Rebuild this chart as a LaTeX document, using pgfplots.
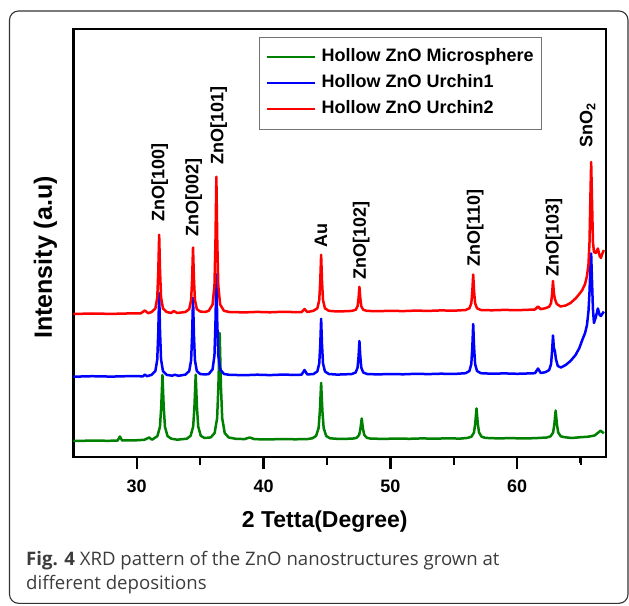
\documentclass[border=0pt]{standalone}
\usepackage{fontspec}
\setmainfont{Liberation Sans}
\newfontfamily\capfont{Open Sans}
\usepackage{pgfplots}
\pgfplotsset{compat=1.18}

\definecolor{xgreen}{RGB}{0,128,0}
\definecolor{xblue}{RGB}{0,0,255}
\definecolor{xred}{RGB}{255,0,0}
\definecolor{capgray}{RGB}{60,60,60}

\newcommand\lbl{\bfseries\fontsize{18}{20}\selectfont}

\begin{document}
\begin{tikzpicture}
\path[use as bounding box] (-73.3pt,-148pt) rectangle (555.7pt,457pt);
\draw[black!80, line width=1.1pt, rounded corners=9pt] (-63.8pt,-146.3pt) rectangle (554.7pt,446pt);
\begin{axis}[
  at={(0pt,0pt)}, anchor=south west,
  scale only axis, width=532.7pt, height=428pt,
  xmin=25, xmax=67, ymin=0, ymax=428,
  xtick={30,40,50,60}, minor xtick={35,45,55,65},
  ytick=\empty,
  xtick pos=left, ytick pos=left,
  xtick align=outside,
  major tick length=10pt, minor tick length=6pt,
  xtick style={draw=black, line width=2.4pt},
  axis line style={line width=2.8pt},
  /pgf/number format/assume math mode=true,
  xticklabel style={font=\lbl, anchor=center, yshift=-19pt},
  xlabel={2 Tetta(Degree)},
  xlabel style={at={(axis description cs:0.472,-0.152)}, anchor=center, font=\bfseries\fontsize{23}{26}\selectfont},
  ylabel={Intensity (a.u)},
  ylabel style={at={(axis description cs:-0.0525,0.466)}, anchor=center, font=\bfseries\fontsize{25}{28}\selectfont},
  clip=false,
  legend style={at={(axis description cs:0.349,0.982)}, anchor=north west,
    draw=black!55, line width=1pt, font=\lbl, inner xsep=6pt, inner ysep=10pt,
    row sep=6pt, cells={anchor=west},
    nodes={inner sep=1.5pt, text height=13pt, text depth=4pt},
    /tikz/every odd column/.append style={column sep=4pt}},
  legend image code/.code={\draw[#1, line width=2.4pt] (0pt,0pt) -- (48pt,0pt);},
  every axis plot/.append style={line width=2.5pt, line join=round},
]
% Hollow ZnO Microsphere
\addplot[xgreen] coordinates {(25.0,16.0) (26.5,16.4) (27.8,16.2) (28.5,16.5) (28.67,20.5) (28.85,16.5) (29.8,16.6) (30.6,17.2) (30.98,19.5) (31.2,17.3) (31.33,18.3) (31.63,20.9) (31.83,30.0) (31.93,49.5) (32.03,82.0) (32.13,49.5) (32.23,30.0) (32.43,20.9) (32.73,18.3) (33.2,17.3) (33.95,18.3) (34.25,21.2) (34.45,30.3) (34.55,49.8) (34.65,82.3) (34.75,49.8) (34.85,30.3) (35.05,21.2) (35.35,19.0) (35.84,19.6) (36.14,23.9) (36.34,38.8) (36.44,70.8) (36.54,124.0) (36.64,70.8) (36.74,38.8) (36.94,23.9) (37.24,19.6) (37.8,18.2) (38.5,17.9) (38.9,19.5) (39.3,17.8) (40.5,17.6) (41.5,18.0) (42.5,17.7) (43.5,18.0) (43.84,18.7) (44.14,21.0) (44.34,28.9) (44.44,45.9) (44.54,74.1) (44.64,45.9) (44.74,28.9) (44.94,21.0) (45.24,18.7) (46.0,18.0) (47.04,18.4) (47.34,19.2) (47.54,22.1) (47.64,28.3) (47.74,38.5) (47.84,28.3) (47.94,22.1) (48.14,19.2) (48.44,18.4) (49.5,18.1) (50.5,18.5) (51.5,18.2) (52.5,18.6) (53.5,18.3) (54.5,18.7) (55.5,18.4) (56.09,19.1) (56.39,20.3) (56.59,24.5) (56.69,33.5) (56.79,48.5) (56.89,33.5) (56.99,24.5) (57.19,20.3) (57.49,19.1) (58.5,18.6) (59.5,18.9) (60.5,18.5) (61.5,18.9) (62.33,19.5) (62.63,20.7) (62.83,24.5) (62.93,32.8) (63.03,46.5) (63.13,32.8) (63.23,24.5) (63.43,20.7) (63.73,19.8) (64.3,19.0) (65.0,19.8) (65.6,20.3) (66.1,21.5) (66.4,24.5) (66.57,26.3) (66.7,25.0) (66.83,23.7)};
\addlegendentry{Hollow ZnO Microsphere}
% Hollow ZnO Urchin1
\addplot[xblue] coordinates {(25.0,80.3) (26.5,80.8) (28.0,80.4) (29.5,80.9) (30.5,80.7) (30.64,82.5) (30.8,80.8) (31.17,82.1) (31.47,85.9) (31.62,97.5) (31.70,124.9) (31.77,163.9) (31.84,124.9) (31.92,97.5) (32.07,85.9) (32.37,82.1) (32.8,81.3) (33.0,82.3) (33.3,81.2) (33.84,82.4) (34.14,85.9) (34.29,96.8) (34.37,122.5) (34.44,159.2) (34.51,122.5) (34.59,96.8) (34.74,85.9) (35.0,83.0) (35.4,82.5) (35.68,83.0) (35.98,87.6) (36.13,101.7) (36.21,135.0) (36.28,182.5) (36.35,135.0) (36.43,101.7) (36.58,87.6) (36.88,83.0) (37.3,82.2) (38.5,81.8) (39.5,82.3) (40.5,81.9) (41.5,82.4) (42.5,82.1) (43.0,82.3) (43.23,87.0) (43.45,82.5) (43.94,83.0) (44.24,85.6) (44.39,93.4) (44.47,111.9) (44.54,138.2) (44.61,111.9) (44.69,93.4) (44.84,85.6) (45.14,83.0) (45.8,82.4) (46.5,82.7) (46.96,83.0) (47.26,84.5) (47.41,89.2) (47.49,100.3) (47.56,116.0) (47.63,100.3) (47.71,89.2) (47.86,84.5) (48.16,83.0) (49.0,82.6) (50.0,83.0) (51.0,82.7) (52.0,83.2) (53.0,82.9) (54.0,83.3) (55.0,83.0) (55.93,83.8) (56.23,86.0) (56.38,93.0) (56.46,109.5) (56.53,133.0) (56.60,109.5) (56.68,93.0) (56.83,86.0) (57.13,83.8) (58.0,83.3) (59.0,83.6) (60.0,83.2) (61.0,83.6) (61.4,83.8) (61.64,88.5) (61.85,84.0) (62.22,84.8) (62.52,87.0) (62.67,93.0) (62.75,106.0) (62.82,121.5) (62.89,109.0) (62.97,106.0) (63.05,98.0) (63.2,91.0) (63.45,89.5) (63.82,92.0) (64.2,96.0) (64.6,102.0) (64.9,109.0) (65.13,117.0) (65.35,124.0) (65.5,132.0) (65.62,146.0) (65.7,165.0) (65.77,190.0) (65.83,203.5) (65.9,175.0) (65.97,148.0) (66.05,134.0) (66.2,140.0) (66.36,148.5) (66.5,142.0) (66.6,141.0) (66.7,143.0) (66.83,145.5)};
\addlegendentry{Hollow ZnO Urchin1}
% Hollow ZnO Urchin2
\addplot[xred] coordinates {(25.0,143.0) (26.5,143.5) (28.0,143.1) (29.5,143.6) (30.3,143.5) (30.64,146.5) (30.9,143.8) (31.17,145.0) (31.47,148.5) (31.62,159.5) (31.70,185.4) (31.77,222.3) (31.84,185.4) (31.92,159.5) (32.07,148.5) (32.37,145.0) (32.7,144.0) (32.92,146.0) (33.2,144.0) (33.84,145.0) (34.14,147.9) (34.29,157.1) (34.37,178.7) (34.44,209.5) (34.51,178.7) (34.59,157.1) (34.74,147.9) (35.0,145.5) (35.4,145.0) (35.68,146.2) (35.98,152.4) (36.13,171.4) (36.21,216.3) (36.28,280.2) (36.35,216.3) (36.43,171.4) (36.58,152.4) (36.88,146.2) (37.3,145.0) (38.5,144.6) (39.5,145.1) (40.5,144.7) (41.5,145.2) (42.5,144.9) (43.0,145.0) (43.23,148.0) (43.45,145.0) (43.94,146.2) (44.24,148.7) (44.39,156.7) (44.47,175.5) (44.54,202.3) (44.61,175.5) (44.69,156.7) (44.84,148.7) (45.14,146.2) (45.8,145.5) (46.5,145.8) (46.96,146.1) (47.26,147.2) (47.41,150.6) (47.49,158.7) (47.56,170.2) (47.63,158.7) (47.71,150.6) (47.86,147.2) (48.16,146.1) (49.0,145.8) (50.0,146.2) (51.0,145.9) (52.0,146.4) (53.0,146.1) (54.0,146.6) (55.0,146.3) (55.93,147.0) (56.23,148.7) (56.38,153.7) (56.46,165.6) (56.53,182.5) (56.60,165.6) (56.68,153.7) (56.83,148.7) (57.13,147.0) (58.0,146.7) (59.0,147.1) (60.0,146.8) (61.0,147.3) (61.4,147.5) (61.64,150.5) (61.85,147.8) (62.22,148.8) (62.52,150.3) (62.67,154.0) (62.75,163.0) (62.82,176.0) (62.89,164.0) (62.97,158.0) (63.12,153.0) (63.42,150.5) (63.82,151.5) (64.2,154.0) (64.6,158.5) (64.9,163.0) (65.13,167.0) (65.35,173.0) (65.5,181.0) (65.62,193.0) (65.7,215.0) (65.77,260.0) (65.83,295.0) (65.9,255.0) (65.97,215.0) (66.05,205.0) (66.2,204.0) (66.36,208.5) (66.5,201.0) (66.6,199.0) (66.7,203.0) (66.83,207.0)};
\addlegendentry{Hollow ZnO Urchin2}

% tick stubs below the lower axis line
\pgfplotsinvokeforeach{30,40,50,60}{\draw[black, line width=2.4pt] (axis cs:#1,0) -- ++(0pt,-11.5pt);}
\pgfplotsinvokeforeach{35,45,55,65}{\draw[black, line width=2.2pt] (axis cs:#1,0) -- ++(0pt,-8pt);}

\begin{scope}[every node/.style={rotate=90, anchor=west, inner sep=0pt, font=\lbl}]
\node at (axis cs:31.82,235) {ZnO[100]};
\node at (axis cs:34.50,220) {ZnO[002]};
\node at (axis cs:36.46,292) {ZnO[101]};
\node at (axis cs:44.53,209) {Au};
\node at (axis cs:47.71,177) {ZnO[102]};
\node at (axis cs:56.68,190) {ZnO[110]};
\node at (axis cs:62.89,180) {ZnO[103]};
\node at (axis cs:65.55,309) {SnO\textsubscript{2}};
\end{scope}
\end{axis}
\node[anchor=base west, inner sep=0pt, text=capgray, font=\capfont\fontsize{18.6}{24}\selectfont] at (-47.3pt,-108pt) {\textbf{Fig. 4} XRD pattern of the ZnO nanostructures grown at};
\node[anchor=base west, inner sep=0pt, text=capgray, font=\capfont\fontsize{18.6}{24}\selectfont] at (-47.3pt,-132pt) {different depositions};
\end{tikzpicture}
\end{document}
